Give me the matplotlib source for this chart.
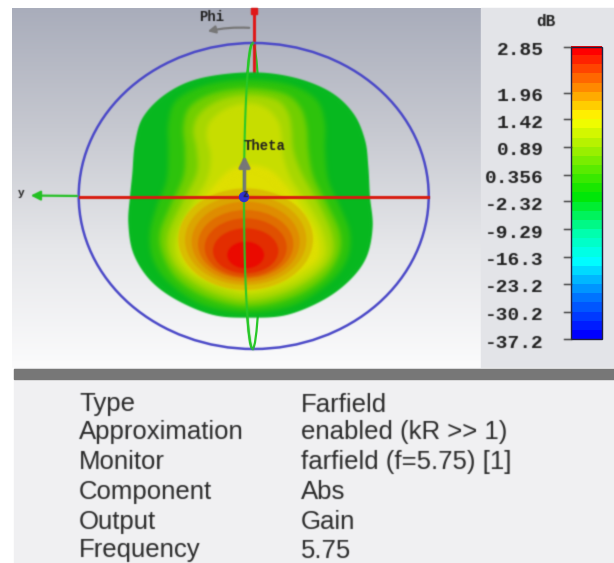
import numpy as np
import matplotlib
matplotlib.use("Agg")
import matplotlib.pyplot as plt
from matplotlib.colors import LinearSegmentedColormap
from matplotlib.patches import Ellipse, Polygon, Rectangle

W, H = 614, 563
tick_labels = ["2.85", "1.96", "1.42", "0.89", "0.356", "-2.32", "-9.29", "-16.3", "-23.2", "-30.2", "-37.2"]
tick_rows = [46.7, 92.7, 119, 146.7, 174.7, 201, 229, 256.7, 284, 311.7, 339.3]
info_names = ["Type", "Approximation", "Monitor", "Component", "Output", "Frequency"]
info_values = ["Farfield", "enabled (kR >> 1)", "farfield (f=5.75) [1]", "Abs", "Gain", "5.75"]
info_rows = [411.5, 439.5, 469, 499, 529, 557.5]

# pattern outlines (3x px)
body = [(750,217),(600,235),(500,280),(430,350),(405,430),(397,520),(390,590),(385,670),(400,760),(450,840),
        (530,900),(640,945),(750,953),(860,945),(970,900),(1050,840),(1100,770),(1118,680),(1110,590),(1105,500),
        (1095,420),(1060,340),(990,275),(880,232)]
band_a = [(745,240),(620,255),(530,300),(505,370),(505,450),(500,540),(470,620),(450,700),(460,780),(510,850),(610,915),(745,937),
          (880,915),(985,850),(1040,780),(1050,700),(1020,620),(985,540),(975,450),(975,370),(950,300),(870,255)]
band_b = [(745,265),(640,280),(570,320),(550,380),(555,450),(550,530),(510,620),(480,700),(490,770),(535,840),(625,895),(745,920),
          (870,895),(965,840),(1015,770),(1020,700),(985,620),(940,530),(925,450),(920,380),(900,320),(850,280)]
band_c = [(745,285),(660,300),(600,340),(580,390),(590,450),(590,520),(545,610),(505,700),(510,770),(555,830),(640,880),(745,903),
          (855,880),(945,830),(995,770),(995,700),(955,610),(905,520),(880,450),(875,390),(865,340),(830,300)]
band_d = [(745,310),(680,325),(630,365),(620,410),(632,470),(620,540),(570,620),(530,700),(530,770),(575,825),(655,865),(745,885),
          (845,865),(925,825),(975,770),(970,700),(930,620),(875,540),(850,470),(845,410),(835,365),(800,325)]
band_e = [(745,495),(690,510),(640,560),(590,630),(550,710),(550,770),(590,820),(670,850),(745,870),
          (830,850),(905,815),(955,770),(950,700),(910,630),(860,560),(810,510)]
band_colors = ["#2ec40c", "#72d000", "#a8d800", "#c8de00", "#e0e000"]
lobe_rx = [202, 182, 162, 143, 123, 98, 55]
lobe_top = [565, 585, 605, 630, 655, 685, 725]
lobe_bottom = [870, 855, 845, 835, 830, 820, 805]
lobe_colors = ["#d9be00", "#dca500", "#e08c00", "#e16e00", "#e15000", "#e42d00", "#eb0a00"]
lobe_cx = 737


def smooth(points, n=12):
    p = np.array(points, float) / 3
    out = []
    for i in range(len(p)):
        a, b, c, d = p[i - 1], p[i], p[(i + 1) % len(p)], p[(i + 2) % len(p)]
        for t in np.linspace(0, 1, n, endpoint=False):
            out.append(0.5 * (2 * b + (c - a) * t + (2 * a - 5 * b + 4 * c - d) * t ** 2 + (3 * b - a - 3 * c + d) * t ** 3))
    return np.array(out)


def soften(sigma):
    def apply(img, dpi):
        r = int(np.ceil(sigma * 3))
        out = np.pad(img, ((r, r), (r, r), (0, 0))).astype(float)
        out[..., :3] *= out[..., 3:]
        w = np.exp(-0.5 * (np.arange(-r, r + 1) / sigma) ** 2)
        w /= w.sum()
        for axis in (0, 1):
            out = sum(k * np.roll(out, s, axis=axis) for k, s in zip(w, range(-r, r + 1)))
        alpha = np.maximum(out[..., 3:], 1e-4)
        out[..., :3] = np.clip(out[..., :3] / alpha, 0, 1)
        return out, -r, -r
    return apply


fig = plt.figure(figsize=(W / 100, H / 100), dpi=100, facecolor="white")
ax = fig.add_axes([0, 0, 1, 1])
ax.axis("off")

# backgrounds
grad = np.linspace(0, 1, 256).reshape(-1, 1)
bgmap = LinearSegmentedColormap.from_list("bg", ["#a9adbb", "#c6c8d0", "#e6e7ea", "#fbfbfc"])
ax.imshow(grad, extent=(12, 481, 368, 8), cmap=bgmap, aspect="auto", zorder=0)
ax.add_patch(Rectangle((481, 8), 133, 360, color="#e3e4e8", zorder=0))
ax.add_patch(Rectangle((14, 368), 600, 195, color="#f0f0f2", zorder=0))
ax.add_patch(Rectangle((14, 368.5), 600, 10, color="#777777", zorder=1))

# meridian behind the body
ax.add_patch(Ellipse((252.5, 196), 17, 306, fill=False, ec="#28c828", lw=1.6, zorder=2))
ax.plot([253.5, 253.5], [12, 72], color="#e01818", lw=2.2, zorder=2)

# pattern
body_patch = ax.add_patch(Polygon(smooth(body), closed=True, fc="#08b920", ec="none", zorder=3))
body_patch.set_agg_filter(soften(0.8))
for pts, col, z in zip([band_a, band_b, band_c, band_d, band_e], band_colors, [4, 5, 6, 7, 7.5]):
    ax.add_patch(Polygon(smooth(pts), closed=True, fc=col, ec="none", zorder=z)).set_agg_filter(soften(2.5))
for rx, top, bottom, col in zip(lobe_rx, lobe_top, lobe_bottom, lobe_colors):
    ax.add_patch(Ellipse((lobe_cx / 3, (top + bottom) / 6), 2 * rx / 3, (bottom - top) / 3, fc=col, ec="none", zorder=8)).set_agg_filter(soften(1.0))

# circle and axes
ax.add_patch(Ellipse((253.7, 196), 350, 306, fill=False, ec="#4a48c8", lw=1.8, zorder=9)).set_agg_filter(soften(0.6))
t = np.linspace(0.5 * np.pi, 1.5 * np.pi, 80)
ax.plot(253 + 9 * np.cos(t), 196 + 153 * np.sin(t), color="#28c828", lw=1.5, zorder=9)
ax.plot([80, 428], [197, 197], color="#d81c10", lw=2.2, zorder=10)
ax.plot([253.5], [10.5], marker="s", ms=4, color="#e01818", zorder=10)
ax.annotate("", xy=(28, 195.5), xytext=(80, 196), arrowprops=dict(arrowstyle="-|>", color="#22c022", lw=1.6, mutation_scale=14), zorder=10)
ax.annotate("", xy=(205, 32), xytext=(252, 28), arrowprops=dict(arrowstyle="-|>", color="#777777", lw=1.6, mutation_scale=11, connectionstyle="arc3,rad=0.08"), zorder=10)
ax.annotate("", xy=(244.5, 153), xytext=(244.5, 197), arrowprops=dict(arrowstyle="-|>", color="#777777", lw=2.4, mutation_scale=16), zorder=10)
ax.add_patch(Ellipse((244, 197), 9, 9, color="#3030d0", zorder=11))

mono = dict(family="Liberation Mono", weight="bold", color="#202020")
ax.text(212, 17, "Phi", fontsize=10, ha="center", va="center", **mono)
ax.text(264.5, 146, "Theta", fontsize=10, ha="center", va="center", zorder=12, **mono)
ax.text(21, 193.5, "y", fontsize=8, ha="center", va="center", **mono)
ax.text(245, 194, "z", fontsize=7, ha="center", va="center", zorder=12, **mono)

# colour scale
cmap = LinearSegmentedColormap.from_list("ff", [(0, "#0000ff"), (0.134, "#0078ff"), (0.26, "#00ffff"), (0.36, "#00ffaa"),
                                                (0.49, "#00e600"), (0.66, "#a8f000"), (0.76, "#ffff00"), (0.88, "#ff8000"), (1, "#ff0000")], N=32)
ax.imshow(np.linspace(1, 0, 32).reshape(-1, 1), extent=(571, 601.5, tick_rows[-1], tick_rows[0]), cmap=cmap, aspect="auto", zorder=2, interpolation="nearest")
ax.add_patch(Rectangle((571, tick_rows[0]), 30.5, tick_rows[-1] - tick_rows[0], fill=False, ec="#202040", lw=1.0, zorder=3))
for lab, row in zip(tick_labels, tick_rows):
    ax.plot([564, 571], [row, row], color="#333333", lw=1.0, zorder=3)
    ax.text(544, row + 4, lab, fontsize=14, ha="right", va="center", **mono)
ax.text(546, 22, "dB", fontsize=11.5, ha="center", va="center", **mono)

# info table
for name, value, row in zip(info_names, info_values, info_rows):
    ax.text(79, row, name, fontsize=18.5, family="Liberation Sans", color="#2a2a2a", ha="left", va="baseline")
    ax.text(301, row, value, fontsize=18.5, family="Liberation Sans", color="#2a2a2a", ha="left", va="baseline")

ax.set_xlim(0, W)
ax.set_ylim(H, 0)
for art in ax.lines + ax.texts:
    art.set_agg_filter(soften(0.6))
fig.savefig("out.png", dpi=100)
